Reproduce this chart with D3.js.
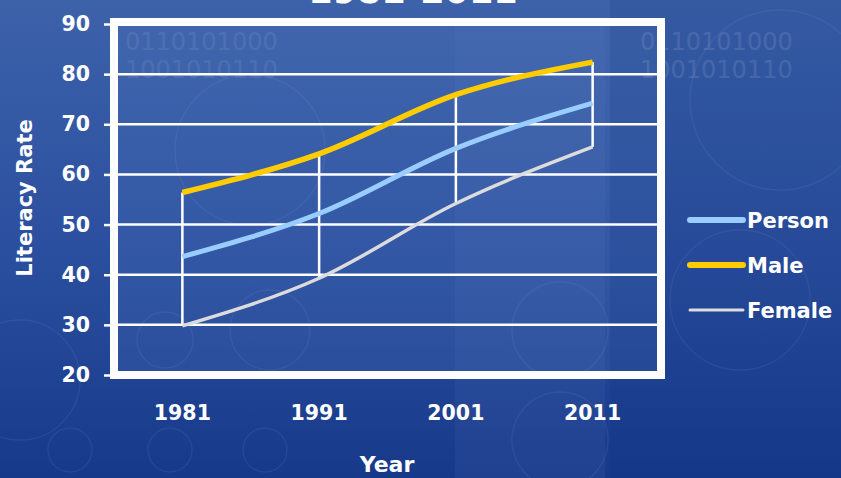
<!DOCTYPE html>
<html>
<head>
<meta charset="utf-8">
<script src="https://cdn.jsdelivr.net/npm/d3@7"></script>
<style>
  body { margin: 0; overflow: hidden; background: #1f418f; }
  svg text { font-family: "DejaVu Sans", "Liberation Sans", sans-serif; font-weight: bold; fill: #fff; }
</style>
</head>
<body>
<svg id="chart" width="841" height="478"></svg>
<script>
// literacy rate (%), census years
var years = ["1981", "1991", "2001", "2011"];
var person = [43.6, 52.2, 65.2, 74.2];
var male = [56.4, 64.1, 75.9, 82.4];
var female = [29.8, 39.3, 54.2, 65.5];
var yTicks = [20, 30, 40, 50, 60, 70, 80, 90];

var seriesList = [
  {name: "Person", values: person, color: "#99ccff", width: 5},
  {name: "Male", values: male, color: "#ffcc00", width: 5.5},
  {name: "Female", values: female, color: "#dcdcdc", width: 3.5}
];

var svg = d3.select("#chart");
var W = 841, H = 478;
var margin = {left: 114, right: 180, top: 24, bottom: 103};

// ---- background ----
var defs = svg.append("defs");
var bg = defs.append("linearGradient").attr("id", "bg").attr("x1", 0).attr("y1", 0).attr("x2", 0).attr("y2", 1);
bg.append("stop").attr("offset", "0%").attr("stop-color", "#3d62aa");
bg.append("stop").attr("offset", "55%").attr("stop-color", "#2a4e9e");
bg.append("stop").attr("offset", "100%").attr("stop-color", "#17398a");
svg.append("rect").attr("width", W).attr("height", H).attr("fill", "url(#bg)");

var deco = svg.append("g").attr("pointer-events", "none");
deco.append("rect").attr("x", 118).attr("y", 26).attr("width", 540).attr("height", 346)
  .attr("fill", "#5a80c0").attr("opacity", 0.18);
deco.append("rect").attr("x", 455).attr("y", 26).attr("width", 150).attr("height", 452)
  .attr("fill", "#6a8cc8").attr("opacity", 0.1);
deco.append("rect").attr("x", 610).attr("y", 0).attr("width", 231).attr("height", 478)
  .attr("fill", "#102c78").attr("opacity", 0.15);
var circles = [[20, 380, 60], [165, 340, 28], [250, 150, 75], [270, 330, 40], [560, 330, 48],
  [560, 440, 48], [70, 450, 22], [170, 450, 22], [265, 450, 22], [780, 100, 90], [740, 300, 70]];
deco.selectAll("circle").data(circles).enter().append("circle")
  .attr("cx", function(d) { return d[0]; }).attr("cy", function(d) { return d[1]; })
  .attr("r", function(d) { return d[2]; })
  .attr("fill", "none").attr("stroke", "#8fb0e0").attr("stroke-width", 1.5).attr("opacity", 0.1);
var bits = ["0110101000", "1001010110"];
bits.forEach(function(b, i) {
  deco.append("text").attr("x", 125).attr("y", 50 + i * 28).text(b)
    .style("font-weight", "normal").style("font-size", "24px").attr("fill", "#9cb8e6").attr("opacity", 0.08);
  deco.append("text").attr("x", 640).attr("y", 50 + i * 28).text(b)
    .style("font-weight", "normal").style("font-size", "24px").attr("fill", "#9cb8e6").attr("opacity", 0.1);
});

// ---- scales ----
var x = d3.scaleBand().domain(years).range([margin.left, W - margin.right]);
var y = d3.scaleLinear().domain([20, 90]).range([H - margin.bottom, margin.top]);

// title (mostly cut off at the top)
svg.append("text").attr("x", 413).attr("y", 3).attr("text-anchor", "middle")
  .style("font-size", "35px").text("1981-2011");

// gridlines
svg.append("g").selectAll("line").data(yTicks).enter().append("line")
  .attr("x1", x.range()[0]).attr("x2", x.range()[1])
  .attr("y1", function(d) { return y(d); }).attr("y2", function(d) { return y(d); })
  .attr("stroke", "#fff").attr("stroke-width", 2.5);

// y axis
var yAxis = svg.append("g").attr("transform", "translate(" + (x.range()[0] - 4) + ",0)")
  .call(d3.axisLeft(y).tickValues(yTicks).tickSize(6).tickPadding(14));
yAxis.select(".domain").remove();
yAxis.selectAll(".tick line").attr("stroke", "#fff").attr("stroke-width", 2.5);
yAxis.selectAll(".tick text").style("font-size", "20.5px").style("font-family", null).attr("fill", "#fff");

// x axis labels
var xAxis = svg.append("g").attr("transform", "translate(0," + y(20) + ")")
  .call(d3.axisBottom(x).tickSize(0).tickPadding(30));
xAxis.select(".domain").remove();
xAxis.selectAll(".tick text").style("font-size", "20.5px").style("font-family", null).attr("fill", "#fff");

// plot frame
svg.append("rect").attr("x", x.range()[0]).attr("y", y(90) - 2)
  .attr("width", x.range()[1] - x.range()[0]).attr("height", y(20) - y(90) + 2)
  .attr("fill", "none").attr("stroke", "#fff").attr("stroke-width", 8);

// high-low lines
var cx = function(i) { return x(years[i]) + x.bandwidth() / 2; };
svg.append("g").selectAll("line").data(years).enter().append("line")
  .attr("x1", function(d, i) { return cx(i); }).attr("x2", function(d, i) { return cx(i); })
  .attr("y1", function(d, i) { return y(d3.max([person[i], male[i], female[i]])); })
  .attr("y2", function(d, i) { return y(d3.min([person[i], male[i], female[i]])); })
  .attr("stroke", "#fff").attr("stroke-width", 2.5);

// series lines
var line = d3.line()
  .x(function(d, i) { return cx(i); })
  .y(function(d) { return y(d); })
  .curve(d3.curveMonotoneX);
svg.append("g").selectAll("path").data(seriesList.slice().reverse()).enter().append("path")
  .attr("d", function(s) { return line(s.values); })
  .attr("fill", "none").attr("stroke", function(s) { return s.color; })
  .attr("stroke-width", function(s) { return s.width; });

// axis titles
svg.append("text").attr("transform", "translate(32," + 198 + ") rotate(-90)")
  .attr("text-anchor", "middle").style("font-size", "21px").text("Literacy Rate");
svg.append("text").attr("x", 387).attr("y", 472).attr("text-anchor", "middle")
  .style("font-size", "22px").text("Year");

// legend
var legend = svg.append("g").selectAll("g").data(seriesList).enter().append("g")
  .attr("transform", function(d, i) { return "translate(690," + (220 + i * 45) + ")"; });
legend.append("line").attr("x1", 0).attr("x2", 53)
  .attr("stroke", function(d) { return d.color; })
  .attr("stroke-width", function(d) { return d.name == "Female" ? 3 : 6; })
  .attr("stroke-linecap", "round");
legend.append("text").attr("x", 57).attr("y", 7.5).style("font-size", "21px")
  .text(function(d) { return d.name; });
</script>
</body>
</html>
